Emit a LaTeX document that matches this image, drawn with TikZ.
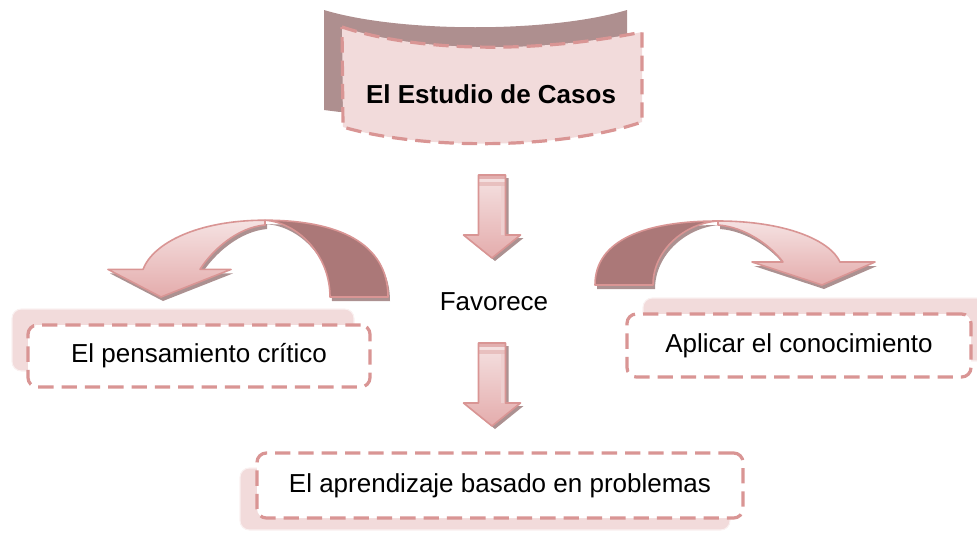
\documentclass[tikz,border=0pt]{standalone}
\usepackage{fontspec}
\setmainfont{Liberation Sans}
\usetikzlibrary{positioning}
\definecolor{casepink}{RGB}{242,219,219}
\definecolor{casedash}{RGB}{217,149,148}
\definecolor{caseback}{RGB}{174,143,143}
\definecolor{arcdark}{RGB}{171,120,120}
\definecolor{arcshadow}{RGB}{172,145,145}
\definecolor{arclight}{RGB}{245,226,226}
\definecolor{arcmid}{RGB}{228,172,172}

\begin{document}
\begin{tikzpicture}[x=0.75pt, y=-0.75pt,
    txt/.style={font=\fontsize{19.5}{23}\selectfont},
    idea/.style={txt, draw=casedash, fill=white, line width=2.4pt, dash pattern=on 11.5pt off 6pt, rounded corners=7pt, inner sep=0pt},
    idealayer/.style={fill=casepink, draw=white!60!casepink, line width=0.8pt, rounded corners=7pt, inner sep=0pt},
    arcback/.style={insert path={(0,0) .. controls (0,-45) and (50,-64) .. (123,-64) .. controls (90,-62) and (58,-35) .. (58,0) -- cycle}},
    arcfront/.style={insert path={(123,-64) .. controls (190,-64) and (235,-45) .. (245,-23) -- (280,-23) -- (227,0) -- (157,-23) -- (188,-23) .. controls (175,-40) and (150,-58) .. (123,-60) -- cycle}},
    downarrow/.style={insert path={(-13.5,0) -- (13.5,0) -- (13.5,60) -- (28.5,60) -- (0,83) -- (-28.5,60) -- (-13.5,60) -- cycle}}
]
    \useasboundingbox (0,0) rectangle (977,532);
    \clip (0,0) rectangle (977,532);

    % Title banner
    \fill[caseback] (324,10) .. controls (400,33) and (550,33) .. (627,10) -- (627,100) -- (340,112) -- (324,110) -- cycle;
    \draw[casedash, fill=casepink, line width=2.4pt, dash pattern=on 11.5pt off 6pt]
        (342,27) .. controls (420,53) and (540,53) .. (642,32) -- (642,122)
        .. controls (560,150) and (420,150) .. (343,127) -- cycle;
    \node[txt, font=\fontsize{19.5}{23}\selectfont\bfseries] (title) at (491,94) {El Estudio de Casos};

    % Curved arrows (left and right)
    \foreach \x/\y/\sx/\sy in {388/297/-1/1.2, 595/285/1/1} {
        \begin{scope}[shift={(\x+2,\y+4)}, xscale=\sx, yscale=\sy]
            \fill[arcshadow, arcback];
            \fill[arcshadow, arcfront];
        \end{scope}
        \begin{scope}[shift={(\x,\y)}, xscale=\sx, yscale=\sy]
            \draw[casedash, fill=arcdark, line width=1.2pt, line join=round, arcback];
            \draw[casedash, top color=arclight, bottom color=arcmid, line width=1.2pt, line join=round, arcfront];
        \end{scope}
    }

    % Straight arrows
    \foreach \y in {175,343} {
        \fill[arcshadow, shift={(495,\y+3)}, downarrow];
        \begin{scope}[shift={(492,\y)}]
            \shade[top color=arclight, bottom color=arcmid, downarrow];
            \fill[casedash!75] (-13.5,0) rectangle (13.5,4);
            \fill[casedash!60] (-13.5,7) rectangle (13.5,11);
            \fill[casedash!45] (8.5,11) rectangle (13.5,60);
            \draw[casedash, line width=1.2pt, line join=round, downarrow];
        \end{scope}
    }
    \node[txt] (fav) at (494,302) {Favorece};

    % Boxes
    \node[idealayer, minimum width=256.5pt, minimum height=46.5pt] (critb) at (183,340) {};
    \node[idealayer, minimum width=258pt, minimum height=47.25pt] (aplicb) at (815,329.5) {};
    \node[idealayer, minimum width=367.5pt, minimum height=46.5pt] (aprendb) at (485,499) {};
    \node[idea, minimum width=256.5pt, minimum height=46.5pt] (crit) at (199,356) {El pensamiento crítico};
    \node[idea, minimum width=258pt, minimum height=47.25pt] (aplic) at (799,345.5) {Aplicar el conocimiento};
    \node[idea, minimum width=364.5pt, minimum height=48.75pt] (aprend) at (500,485.5) {El aprendizaje basado en problemas};
\end{tikzpicture}
\end{document}
